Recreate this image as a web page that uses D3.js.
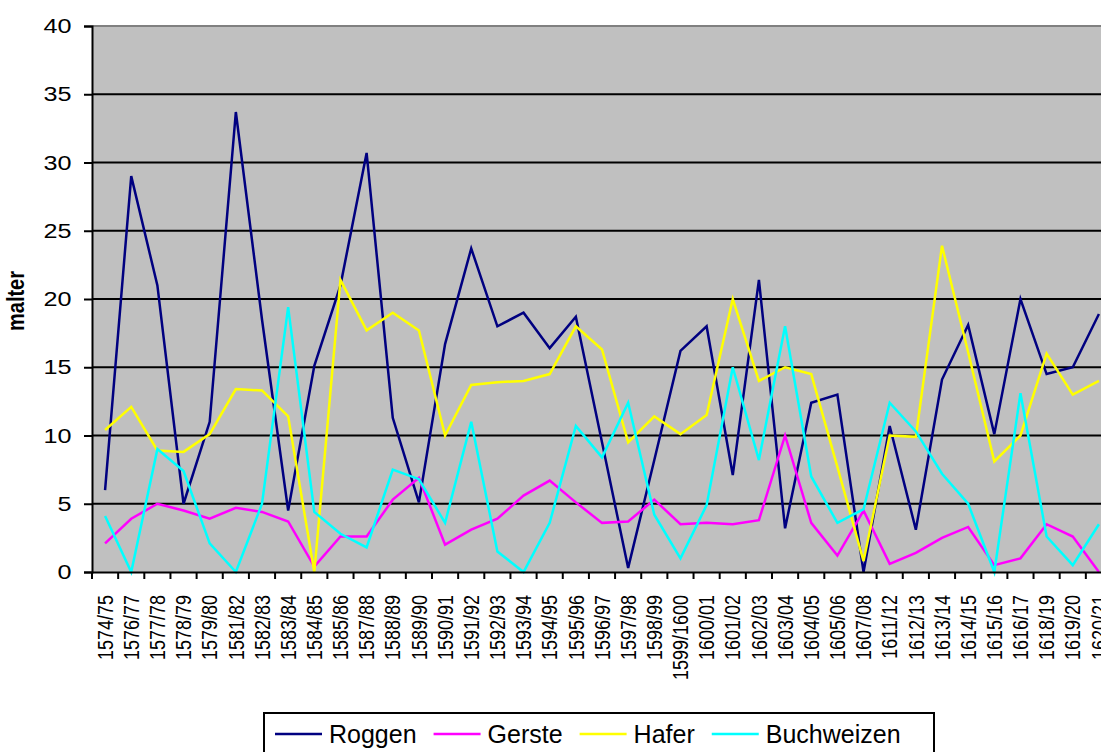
<!DOCTYPE html>
<html>
<head>
<meta charset="utf-8">
<script src="https://cdn.jsdelivr.net/npm/d3@7"></script>
<style>
  body { margin: 0; background: #fff; }
  svg { display: block; font-family: Arial, "Liberation Sans", sans-serif; }
</style>
</head>
<body>
<div id="chart"></div>
<script>
var years = ["1574/75","1576/77","1577/78","1578/79","1579/80","1581/82","1582/83","1583/84","1584/85","1585/86",
  "1587/88","1588/89","1589/90","1590/91","1591/92","1592/93","1593/94","1594/95","1595/96","1596/97",
  "1597/98","1598/99","1599/1600","1600/01","1601/02","1602/03","1603/04","1604/05","1605/06","1607/08",
  "1611/12","1612/13","1613/14","1614/15","1615/16","1616/17","1618/19","1619/20","1620/21"];

var roggen = [6.0, 29.0, 21.0, 5.0, 11.0, 33.7, 18.5, 4.5, 15.1, 21.0,
  30.7, 11.3, 5.1, 16.7, 23.7, 18.0, 19.0, 16.4, 18.7, 9.5,
  0.3, 8.2, 16.2, 18.0, 7.1, 21.4, 3.2, 12.4, 13.0, 0.0,
  10.7, 3.1, 14.1, 18.1, 10.1, 20.0, 14.5, 15.0, 18.9];
var gerste = [2.1, 3.9, 5.0, 4.5, 3.9, 4.7, 4.4, 3.7, 0.4, 2.6,
  2.6, 5.3, 6.9, 2.0, 3.1, 3.9, 5.6, 6.7, 5.1, 3.6,
  3.7, 5.3, 3.5, 3.6, 3.5, 3.8, 10.0, 3.6, 1.2, 4.5,
  0.6, 1.4, 2.5, 3.3, 0.5, 1.0, 3.5, 2.6, 0.0];
var hafer = [10.4, 12.1, 8.9, 8.8, 10.1, 13.4, 13.3, 11.4, 0.0, 21.4,
  17.7, 19.0, 17.7, 10.0, 13.7, 13.9, 14.0, 14.5, 18.0, 16.3,
  9.5, 11.4, 10.1, 11.5, 20.0, 14.0, 15.0, 14.5, 7.7, 0.8,
  10.0, 9.9, 23.9, 16.1, 8.1, 10.0, 16.0, 13.0, 14.0];
var buchweizen = [4.1, 0.0, 9.0, 7.4, 2.1, 0.0, 5.0, 19.4, 4.4, 2.8,
  1.8, 7.5, 6.8, 3.6, 11.0, 1.5, 0.0, 3.6, 10.7, 8.4,
  12.4, 4.2, 1.0, 4.9, 15.0, 8.2, 18.0, 7.0, 3.6, 4.6,
  12.4, 10.3, 7.2, 5.0, 0.0, 13.1, 2.6, 0.5, 3.5];

var seriesNames = ["Roggen", "Gerste", "Hafer", "Buchweizen"];
var seriesColors = ["#000080", "#FF00FF", "#FFFF00", "#00FFFF"];
var seriesValues = [roggen, gerste, hafer, buchweizen];
var yTicks = [0, 5, 10, 15, 20, 25, 30, 35, 40];

var svgWidth = 1101;
var svgHeight = 752;
var margin = {top: 26, left: 92};
var width = 1020;   // plot runs past the right edge, as in the original
var height = 546;

var svg = d3.select("#chart")
  .append("svg")
  .attr("width", svgWidth)
  .attr("height", svgHeight);

var x = d3.scaleBand()
  .domain(years)
  .range([margin.left, margin.left + width]);
var y = d3.scaleLinear()
  .domain([0, 40])
  .range([margin.top + height, margin.top]);

// plot background
svg.append("rect")
  .attr("x", margin.left)
  .attr("y", margin.top)
  .attr("width", width)
  .attr("height", height)
  .attr("fill", "#C0C0C0");

// gridlines
svg.append("g")
  .selectAll("line")
  .data(yTicks.slice(1, -1))
  .enter()
  .append("line")
  .attr("x1", margin.left)
  .attr("x2", margin.left + width)
  .attr("y1", d => y(d))
  .attr("y2", d => y(d))
  .attr("stroke", "#000")
  .attr("stroke-width", 2);

// top border
svg.append("line")
  .attr("x1", margin.left)
  .attr("x2", margin.left + width)
  .attr("y1", margin.top)
  .attr("y2", margin.top)
  .attr("stroke", "#808080")
  .attr("stroke-width", 2);

// series lines
var line = d3.line()
  .x((d, i) => x(years[i]) + x.bandwidth() / 2)
  .y(d => y(d));

svg.append("g")
  .selectAll("path")
  .data(seriesValues)
  .enter()
  .append("path")
  .attr("d", d => line(d))
  .attr("fill", "none")
  .attr("stroke", (d, i) => seriesColors[i])
  .attr("stroke-width", 2.5)
  .attr("stroke-linejoin", "miter");

// y axis
var leftAxis = d3.axisLeft(y).tickValues(yTicks).tickSize(8).tickPadding(0);
var yAxisG = svg.append("g")
  .attr("transform", `translate(${margin.left},0)`)
  .call(leftAxis);
yAxisG.select(".domain").attr("stroke", "#000").attr("stroke-width", 2);
yAxisG.selectAll(".tick line").attr("stroke", "#000").attr("stroke-width", 2);
yAxisG.selectAll(".tick text")
  .attr("x", -17)
  .attr("transform", "scale(1.2,1)")
  .attr("font-size", "21px")
  .attr("font-family", "Arial, 'Liberation Sans', sans-serif")
  .attr("fill", "#000");

// x axis
var bottomAxis = d3.axisBottom(x).tickSize(0).tickPadding(0);
var xAxisG = svg.append("g")
  .attr("transform", `translate(0,${margin.top + height})`)
  .call(bottomAxis);
xAxisG.select(".domain").attr("stroke", "#000").attr("stroke-width", 2);
xAxisG.selectAll(".tick text")
  .attr("y", 0)
  .attr("x", 0)
  .attr("dy", "0.35em")
  .attr("text-anchor", "end")
  .attr("transform", "translate(0,23) scale(1.22,1) rotate(-90)")
  .attr("font-size", "18px")
  .attr("font-family", "Arial, 'Liberation Sans', sans-serif")
  .attr("fill", "#000");

// tick marks on band boundaries
svg.append("g")
  .selectAll("line")
  .data(years)
  .enter()
  .append("line")
  .attr("x1", d => x(d))
  .attr("x2", d => x(d))
  .attr("y1", margin.top + height)
  .attr("y2", margin.top + height + 7)
  .attr("stroke", "#000")
  .attr("stroke-width", 2);

// y axis title
svg.append("text")
  .attr("transform", "translate(24,301) scale(1.2,1) rotate(-90)")
  .attr("text-anchor", "middle")
  .attr("font-size", "20px")
  .attr("font-weight", "bold")
  .text("malter");

// legend
var legend = svg.append("g");
legend.append("rect")
  .attr("x", 264)
  .attr("y", 713)
  .attr("width", 670)
  .attr("height", 50)
  .attr("fill", "#fff")
  .attr("stroke", "#000")
  .attr("stroke-width", 2);

var lx = 275;
seriesNames.forEach(function(name, i) {
  legend.append("line")
    .attr("x1", lx)
    .attr("x2", lx + 47)
    .attr("y1", 734)
    .attr("y2", 734)
    .attr("stroke", seriesColors[i])
    .attr("stroke-width", 2.5);
  var t = legend.append("text")
    .attr("x", lx + 54)
    .attr("y", 743)
    .attr("font-size", "25px")
    .attr("fill", "#000")
    .text(name);
  lx = lx + 54 + t.node().getComputedTextLength() + 17;
});
</script>
</body>
</html>
